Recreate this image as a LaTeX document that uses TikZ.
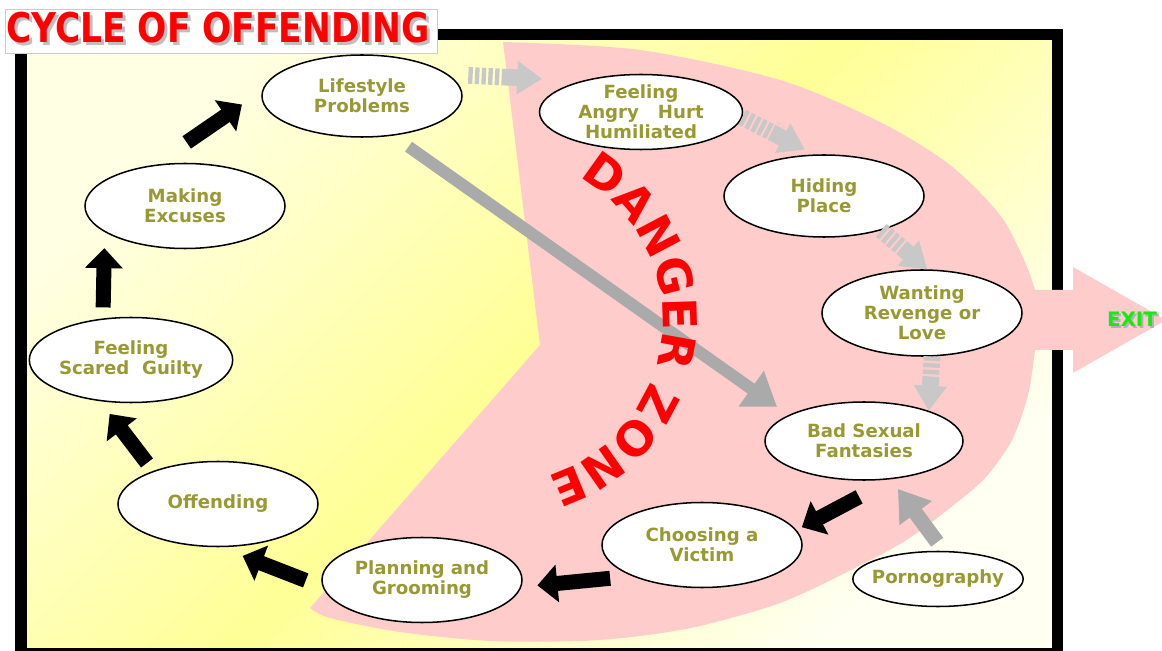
\documentclass[tikz,border=0pt]{standalone}
\usepackage{fontspec}
\setmainfont{DejaVu Sans}
\usepackage{tikz}
\usetikzlibrary{
	arrows.meta,
	shapes.geometric,
	decorations.text
}

\definecolor{amarelo}{RGB}{255,255,150}
\definecolor{amareloclaro}{RGB}{255,255,228}
\definecolor{amarelobranco}{RGB}{255,255,242}
\definecolor{rosa}{RGB}{255,204,204}
\definecolor{oliva}{RGB}{153,153,51}
\definecolor{cinza}{RGB}{200,200,200}
\definecolor{cinzaesc}{RGB}{170,170,170}
\definecolor{verde}{RGB}{20,235,20}

\newcommand{\textotitulo}{\scalebox{0.84}[1]{CYCLE OF OFFENDING}}

\begin{document}
\begin{tikzpicture}[
			x=0.03cm, y=-0.03cm,
			font=\bfseries\fontsize{15.5}{17}\selectfont,
			fase/.style={draw, ellipse, line width=1.3pt, fill=white, text=oliva, align=center, inner sep=0pt, minimum width=6cm, minimum height=2.55cm},
			seta/.style={draw=black, line width=0.45cm, -{Triangle[length=0.6cm, width=1.1cm]}},
			listra/.style={draw=cinza, line width=0.5cm, dash pattern=on 0.13cm off 0.07cm},
			setacinza/.style={draw=cinza, line width=0.5cm, -{Triangle[length=0.75cm, width=0.95cm]}},
			setaescura/.style={draw=cinzaesc, line width=0.45cm, -{Triangle[length=0.9cm, width=1.15cm]}},
			setalonga/.style={draw=cinzaesc, line width=0.36cm, -{Triangle[length=0.95cm, width=1.25cm]}},
			titulo/.style={font=\bfseries\fontsize{35}{35}\selectfont, inner sep=0pt}
		]

		\useasboundingbox (0,0) rectangle (1162,651);
		\fill[white] (0,0) rectangle (1162,651);

		% fundo amarelo e moldura
		\fill[left color=amareloclaro, right color=amarelobranco, middle color=amarelo, shading angle=45] (21,35) rectangle (1057,653);
		\draw[line width=0.33cm] (21,35) rectangle (1057,653);

		% zona de perigo
		\fill[rosa] (540,345) -- (503,42)
			-- plot[smooth] coordinates {(503,42) (640,50) (780,80) (880,122) (950,165) (1000,215) (1025,262) (1035,290)}
			-- (1073,290) -- (1073,267) -- (1166,320) -- (1073,373) -- (1073,350) -- (1035,350)
			-- plot[smooth] coordinates {(1035,350) (1028,395) (1012,440) (985,478) (950,508) (905,541) (847,572) (780,603) (700,626) (640,636) (580,641) (490,641) (400,632) (330,618) (310,608)}
			-- cycle;

		% titulo
		\node[draw=black!20, fill=white, minimum width=12.96cm, minimum height=1.32cm] (tit) at (221,31) {};
		\node[titulo, text=black!25] at (221,31) {\textotitulo};
		\node[titulo, text=red] at (218,28) {\textotitulo};

		\node[fase, minimum height=2.46cm] (s1) at (362,96) {Lifestyle\\Problems};
		\node[fase, minimum width=6.09cm, minimum height=2.25cm, inner ysep=-1.5pt] (s2) at (641,112) {Feeling\\Angry\ \ \ Hurt\\Humiliated};
		\node[fase, minimum height=2.46cm] (s3) at (824,196) {Hiding\\Place};
		\node[fase, minimum height=2.58cm] (s4) at (922,313) {Wanting\\Revenge or\\Love};
		\node[fase, minimum width=5.94cm, minimum height=2.34cm] (s5) at (864,441) {Bad Sexual\\Fantasies};
		\node[fase] (s6) at (702,545) {Choosing a\\Victim};
		\node[fase] (s7) at (422,580) {Planning and\\Grooming};
		\node[fase] (s8) at (218,504) {Offending};
		\node[fase] (s9) at (131,360) {Feeling\\Scared\ \ Guilty};
		\node[fase] (s10) at (185,206) {Making\\Excuses};
		\node[fase, minimum width=5.1cm, minimum height=1.65cm, inner xsep=-5pt] (p1) at (938,579) {Pornography};

		% ciclo
		\draw[seta, shorten <=1.19cm, shorten >=0.73cm] (s10.127) -- (s1.177);
		\draw[seta, shorten <=0.33cm, shorten >=0.48cm] (s9.124) -- (s10.198);
		\draw[seta, shorten <=0.30cm, shorten >=0.48cm] (s8.153) -- (s9.233);
		\draw[seta, shorten <=0.54cm, shorten >=0.72cm] (s7.184) -- (s8.273);
		\draw[seta, shorten <=0.66cm, shorten >=0.48cm] (s6.204) -- (s7.356);
		\draw[seta, shorten <=1.14cm, shorten >=0.18cm] (s5.307) -- (s6.9);

		\draw[listra, shorten <=0.6cm, shorten >=2.28cm] (s1.14) -- (s2.152);
		\draw[setacinza, shorten <=1.71cm, shorten >=1.2cm] (s1.14) -- (s2.152);
		\draw[listra, shorten >=1.41cm] (s2.357) -- (s3.103);
		\draw[setacinza, shorten <=0.99cm, shorten >=0.32cm] (s2.357) -- (s3.103);
		\draw[listra, shorten >=0.93cm] (s3.329) -- (s4.83);
		\draw[setacinza, shorten <=0.87cm] (s3.329) -- (s4.83);
		\draw[listra, shorten >=0.9cm] (s4.283) -- (s5.25);
		\draw[setacinza, shorten <=0.72cm] (s4.283) -- (s5.25);

		\draw[setaescura, shorten <=0.32cm, shorten >=0.36cm] (p1.79) -- (s5.305);
		\draw[setalonga, shorten <=0.57cm, shorten >=0.42cm] (s1.308) -- (s5.161);

		% texto em arco
		\path[decorate, decoration={text along path, text color=red, text align=center,
			text={|\bfseries\fontsize{40}{40}\selectfont|DANGER ZONE}}]
			(500,320) ++(-70:163) arc[start angle=-70, end angle=82, radius=163];

		\node[text=black!30, font=\bfseries\fontsize{17}{17}\selectfont] at (1134,321) {EXIT};
		\node[text=verde, font=\bfseries\fontsize{17}{17}\selectfont] (saida) at (1132,319) {EXIT};
	\end{tikzpicture}
\end{document}
